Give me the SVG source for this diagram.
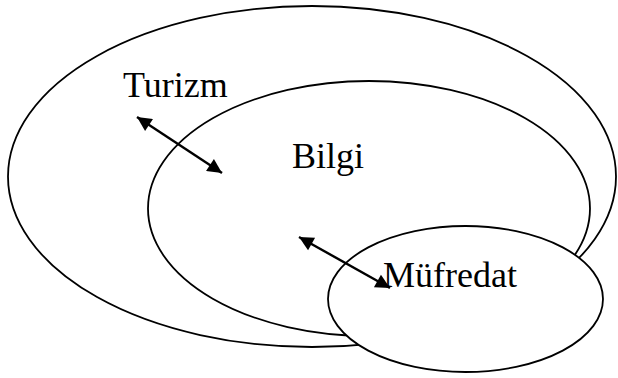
<svg xmlns="http://www.w3.org/2000/svg" width="618" height="378" viewBox="0 0 618 378">
  <style>
    .shape { fill: #ffffff; stroke: #000000; stroke-width: 1.8; }
    .lbl { font-family: "Liberation Serif", "Times New Roman", serif; font-size: 36px; fill: #000000; }
    .conn { stroke: #000000; stroke-width: 2.4; fill: none; }
  </style>
  <defs>
    <marker id="ah" viewBox="0 0 10 10" refX="10" refY="5" markerWidth="7" markerHeight="6" orient="auto-start-reverse" markerUnits="strokeWidth">
      <path d="M0,0 L10,5 L0,10 z" fill="#000000"/>
    </marker>
  </defs>
  <rect width="618" height="378" fill="#ffffff"/>
  <g id="turizm">
    <ellipse class="shape" cx="312" cy="176.5" rx="304" ry="170.5"/>
    <text class="lbl" x="123" y="97">Turizm</text>
  </g>
  <g id="bilgi">
    <ellipse class="shape" cx="369" cy="208.5" rx="221" ry="127.5"/>
    <text class="lbl" x="292" y="168">Bilgi</text>
  </g>
  <g id="mufredat">
    <ellipse class="shape" cx="465.5" cy="299" rx="137.5" ry="73"/>
  </g>
  <g id="connectors">
    <line class="conn" x1="137" y1="117" x2="222" y2="173" marker-start="url(#ah)" marker-end="url(#ah)"/>
    <line class="conn" x1="299" y1="237" x2="390" y2="288" marker-start="url(#ah)" marker-end="url(#ah)"/>
  </g>
  <g id="mufredat-label">
    <text class="lbl" x="383" y="287">Müfredat</text>
  </g>
</svg>
